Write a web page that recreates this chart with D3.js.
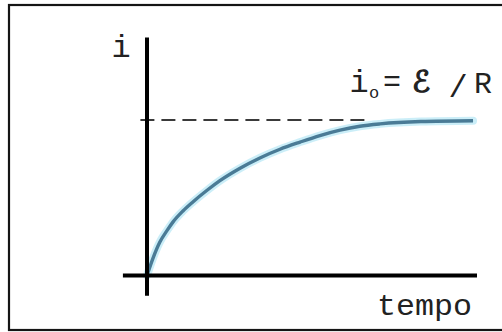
<!DOCTYPE html>
<html>
<head>
<meta charset="utf-8">
<script src="https://cdn.jsdelivr.net/npm/d3@7"></script>
<style>
  html, body { margin: 0; padding: 0; background: #fff; }
  svg { display: block; }
  text { font-family: "Liberation Mono", "DejaVu Sans Mono", monospace; fill: #222; }
</style>
</head>
<body>
<svg id="chart" width="502" height="332"></svg>
<script>
// Charging current of an RL circuit: i(t) rising towards i0 = E/R
const tempo = [0, 0.18, 0.39, 0.61, 0.79, 1.09, 1.39, 1.82, 2.21, 2.82, 3.42,
               4.03, 4.64, 5.24, 5.85, 6.45, 7.06, 8.3, 9.88];
const corrente = [0, 0.11, 0.215, 0.29, 0.345, 0.415, 0.473, 0.548, 0.61, 0.69, 0.756,
                  0.812, 0.858, 0.9, 0.935, 0.96, 0.975, 0.99, 0.995];
const i0 = 1;                 // asymptote i0 = E/R
const asymptoteEnd = 6.8;     // the dashed guide stops here (time units)
const xAxisExtent = [-0.73, 10.0];
const yAxisExtent = [-0.13, 1.53];
const xLabel = "tempo";
const yLabel = "i";

const svg = d3.select("#chart");

const x = d3.scaleLinear().domain([0, 10]).range([147, 477]);
const y = d3.scaleLinear().domain([0, 1]).range([275.5, 120]);

// frame
svg.append("rect")
  .attr("x", 9).attr("y", 5)
  .attr("width", 500).attr("height", 325)
  .attr("fill", "none").attr("stroke", "#151515").attr("stroke-width", 2.2);

// dashed asymptote
svg.append("line")
  .attr("x1", x(-0.2)).attr("x2", x(asymptoteEnd))
  .attr("y1", y(i0)).attr("y2", y(i0))
  .attr("stroke", "#3a3a3a").attr("stroke-width", 2.2)
  .attr("stroke-dasharray", "14,7");

// current curve with a soft cyan glow
const pts = tempo.map((t, k) => [t, corrente[k]]);
const line = d3.line().x(d => x(d[0])).y(d => y(d[1])).curve(d3.curveMonotoneX);

svg.append("path").datum(pts)
  .attr("d", line).attr("fill", "none")
  .attr("stroke", "#c2ebf7").attr("stroke-width", 8)
  .attr("stroke-linecap", "round").attr("opacity", 0.85);
svg.append("path").datum(pts)
  .attr("d", line).attr("fill", "none")
  .attr("stroke", "#4a7b96").attr("stroke-width", 3.4)
  .attr("stroke-linecap", "butt");

// axes
svg.append("line")
  .attr("x1", x(0)).attr("x2", x(0))
  .attr("y1", y(yAxisExtent[0])).attr("y2", y(yAxisExtent[1]))
  .attr("stroke", "#000").attr("stroke-width", 4);
svg.append("line")
  .attr("x1", x(xAxisExtent[0])).attr("x2", x(xAxisExtent[1]))
  .attr("y1", y(0)).attr("y2", y(0))
  .attr("stroke", "#000").attr("stroke-width", 4);

// axis labels
svg.append("text")
  .attr("x", 121).attr("y", 57)
  .attr("text-anchor", "middle")
  .attr("font-size", 32)
  .text(yLabel);

svg.append("text")
  .attr("x", 377).attr("y", 315)
  .attr("font-size", 29)
  .attr("textLength", 95).attr("lengthAdjust", "spacingAndGlyphs")
  .text(xLabel);

// asymptote label: i0 = E /R
const lab = svg.append("g");
lab.append("text").attr("x", 359).attr("y", 92).attr("text-anchor", "middle")
  .attr("font-size", 32).text("i");
lab.append("text").attr("x", 374).attr("y", 98).attr("text-anchor", "middle")
  .attr("font-size", 17).text("o");
lab.append("text").attr("x", 392).attr("y", 91).attr("text-anchor", "middle")
  .attr("font-size", 30).text("=");
lab.append("text").attr("x", 421).attr("y", 92).attr("text-anchor", "middle")
  .attr("font-size", 30).style("font-family", "'DejaVu Serif', 'DejaVu Sans', serif")
  .attr("stroke", "#222").attr("stroke-width", 1.2)
  .text("ℰ");
lab.append("text").attr("x", 458).attr("y", 97).attr("text-anchor", "middle")
  .attr("font-size", 32).text("/");
lab.append("text").attr("x", 483).attr("y", 93).attr("text-anchor", "middle")
  .attr("font-size", 30).text("R");
</script>
</body>
</html>
